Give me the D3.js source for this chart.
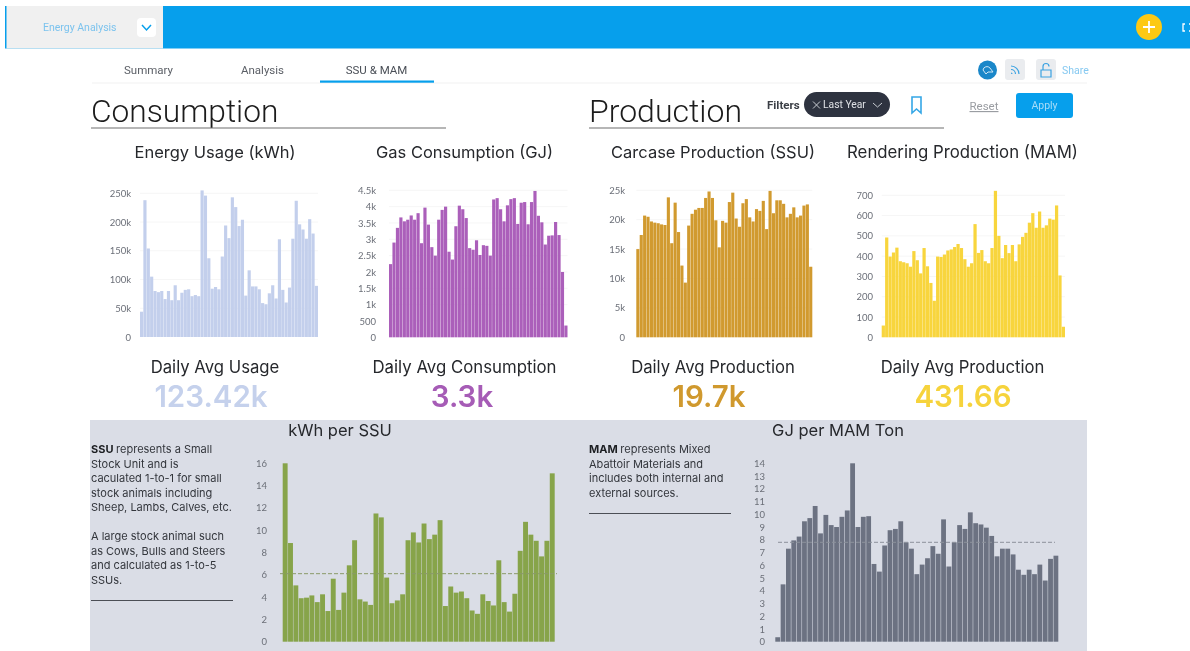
<!DOCTYPE html>
<html>
<head>
<meta charset="utf-8">
<title>Energy Analysis</title>
<style>
  html, body { margin: 0; padding: 0; background: #fff; overflow: hidden; }
  svg { filter: blur(0.4px); }
  text { font-family: Roboto, sans-serif; }
  .tick text { font-family: Lato, sans-serif; font-size: 9.5px; fill: #6b6f78; }
</style>
</head>
<body>
<script src="https://cdn.jsdelivr.net/npm/d3@7"></script>
<script>
// weekly values
var energyUsage = [44,238,154,105,80,78,80,66,80,64,90,64,77,82,83,71,73,71,255,246,137,84,87,83,140,194,172,243,226,193,204,72,116,88,88,83,59,57,76,90,67,170,82,60,86,171,237,196,187,171,205,180,89].map(function(d){ return d * 1000; });
var gasConsumption = [2240,2900,3350,3670,3550,3600,3730,3600,3800,2880,3970,3450,2760,2500,3600,3900,4000,2620,2380,3400,4030,3920,3650,2730,2680,2970,2520,2820,2800,2500,4220,4260,3920,3550,4040,4230,4260,3470,4120,4140,3460,4140,4480,3720,3520,2840,3110,3120,3530,3130,2000,360];
var carcaseProduction = [15,17.4,20.7,20.5,19.7,19.5,19.4,19.2,19.1,23.8,16,22.9,17.9,12.2,9.3,19,21,21.7,22,22,23.7,24.8,23.7,19.9,15.3,19.8,19.5,23,24.6,20.2,18.8,22.8,23.5,20.4,19.7,21.8,21.5,23.2,18.4,24.9,21.1,23.3,23.3,22.7,20.4,21,22.1,20.4,20.7,22.4,22.6,12].map(function(d){ return d * 1000; });
var renderingProduction = [58,492,398,418,442,375,370,365,348,425,380,315,440,350,268,180,398,396,408,428,433,445,460,440,385,348,365,558,416,430,375,365,440,722,500,390,455,415,455,375,458,495,515,565,612,540,620,540,552,585,580,650,305,52];
var kwhPerSsu = [16,8.85,5.05,3.9,3.95,4.15,3.55,4.25,2.75,5.65,2.85,4.4,6.85,9.1,3.8,3.6,3.3,11.5,11.15,5.75,3.45,3.7,4.25,9.1,9.8,8.9,10.6,9.2,9.6,10.9,3.2,4.95,4.4,4.5,3.9,2.8,2.5,4.25,3.65,3.25,7.3,3.55,2.7,4.3,8.15,10.75,9.6,9.05,7.65,9.05,15.1];
var gjPerMam = [0.35,4.5,7.3,7.95,8.25,9.45,9.7,10.65,8.5,9.95,9.15,9,9.8,10.3,14,9,9.8,9.85,6.1,5.5,7.55,8.75,8.85,9.45,7.8,7.3,5.3,6.05,6.55,7.5,6.9,9.6,5.9,7.8,9.15,8.85,10.15,9.3,9.2,8.95,8.3,6.7,7.3,7.3,6.85,5.65,5.25,5.65,5.3,6.05,4.8,6.5,6.75];

var energyTicks = [0,50000,100000,150000,200000,250000];
var gasTicks = [0,500,1000,1500,2000,2500,3000,3500,4000,4500];
var carcaseTicks = [0,5000,10000,15000,20000,25000];
var renderingTicks = [0,100,200,300,400,500,600,700];
var ssuTicks = [0,2,4,6,8,10,12,14,16];
var mamTicks = [0,1,2,3,4,5,6,7,8,9,10,11,12,13,14];

var ssuMean = 6.1;
var mamMean = 7.8;

var tabs = ['Summary', 'Analysis', 'SSU & MAM'];
var ssuNote = ['represents a Small', 'Stock Unit and is', 'caculated 1-to-1 for small', 'stock animals including', 'Sheep, Lambs, Calves, etc.', '', 'A large stock animal such', 'as Cows, Bulls and Steers', 'and calculated as 1-to-5', 'SSUs.'];
var mamNote = ['represents Mixed', 'Abattoir Materials and', 'includes both internal and', 'external sources.'];

var width = 1190, height = 651;
var blue = '#069fec', titleFont = 'Inter, Roboto, sans-serif';

var svg = d3.select('body').append('svg')
  .attr('width', width).attr('height', height)
  .style('display', 'block');

function label(x, y, str, size, color, anchor, weight, font) {
  return svg.append('text')
    .attr('x', x).attr('y', y)
    .attr('text-anchor', anchor || 'start')
    .style('font-size', size + 'px')
    .style('font-weight', weight || 400)
    .style('font-family', font || null)
    .attr('fill', color)
    .text(str);
}

function box(x, y, w, h, fill, r) {
  return svg.append('rect').attr('x', x).attr('y', y).attr('width', w).attr('height', h)
    .attr('rx', r || 0).attr('fill', fill);
}

function rule(x1, x2, y, color, w) {
  svg.append('line').attr('x1', x1).attr('x2', x2).attr('y1', y).attr('y2', y)
    .attr('stroke', color).attr('stroke-width', w || 1);
}

function icon(d, color, w) {
  svg.append('path').attr('d', d).attr('fill', 'none')
    .attr('stroke', color).attr('stroke-width', w || 1.3);
}

// top bar
box(5, 6, 1185, 42.5, blue);
box(6.5, 6, 156.5, 42.5, '#f0f0f0');
label(43, 31, 'Energy Analysis', 10.5, '#7cc3ee');
box(137, 18, 19, 19, '#fff', 4);
icon('M142 25 L146.5 30 L151 25', blue, 1.5);
svg.append('circle').attr('cx', 1149).attr('cy', 27).attr('r', 13).attr('fill', '#fdc913');
icon('M1143 27 H1155 M1149 21 V33', '#fff', 1.8);
icon('M1185 24 H1183 V31 H1185 M1189 24 H1191 M1189 31 H1191', '#fff', 1.3);

// tabs
rule(92, 1087, 83, '#f1f1f1');
d3.zip(tabs, [148.5, 262.5, 376.5]).forEach(function(t, i) {
  label(t[1], 74, t[0], 11.5, i == 2 ? '#4a4f57' : '#5b5f66', 'middle');
});
box(320, 80.5, 114, 2.2, blue);

// share icons
svg.append('circle').attr('cx', 987.5).attr('cy', 70).attr('r', 9.5).attr('fill', '#1a87c9');
icon('M983 70 a4 4 0 0 1 7 -2 l3 4 h-5 l-2 2 z', '#cfe6f5', 1);
box(1005, 59, 20, 21, '#eaecef', 3);
icon('M1011 66 a8 8 0 0 1 8 8 M1011 69.5 a4.5 4.5 0 0 1 4.5 4.5 M1011 73 a1 1 0 0 1 1 1', '#3aa2e2', 1.2);
box(1036, 59, 20, 21, '#eaecef', 3);
icon('M1041 70 h10 v7 h-10 z M1043 70 v-3.5 a3 3 0 0 1 6 0', '#3aa2e2', 1.2);
label(1062, 74, 'Share', 10.5, '#86c9f1');

// section headers
label(91, 122, 'Consumption', 31.7, '#1c1c1c', 'start', 300);
rule(91, 446, 128, '#6f6f6f', 1.2);
label(589, 122, 'Production', 32, '#1c1c1c', 'start', 300);
rule(589, 944, 128, '#6f6f6f', 1.2);

// filters
label(767, 109, 'Filters', 11.5, '#3b3f46', 'start', 700);
box(804, 92, 86, 25, '#2e3340', 12.5);
icon('M813 101.5 L820 108.5 M820 101.5 L813 108.5', '#c8ccd2', 1);
label(823, 108, 'Last Year', 10.3, '#dfe1e5');
icon('M873 103 L877.5 107 L882 103', '#c8ccd2', 1);
icon('M912 97 H921 V113 L916.5 109 L912 113 Z', '#35a7e6', 1.6);
label(969.5, 110, 'Reset', 11.5, '#9a9da2').style('text-decoration', 'underline');
box(1016, 93, 57, 25, blue, 3);
label(1044.5, 109, 'Apply', 10.5, '#a7dcf8', 'middle');

// bottom panel
box(90, 420, 997, 231, '#dadde6');

function shortK(d) {
  return d >= 1000 ? (d / 1000) + 'k' : String(d);
}

function barChart(o) {
  var x = d3.scaleBand()
    .domain(d3.range(o.values.length))
    .range([o.x0, o.x1])
    .paddingInner(o.gap);
  var y = d3.scaleLinear()
    .domain([0, d3.max(o.ticks)])
    .range([o.y0, o.y1]);
  var g = svg.append('g');

  if (o.grid) {
    g.selectAll('.grid').data(o.ticks.slice(1)).enter().append('line')
      .attr('class', 'grid')
      .attr('x1', o.x0).attr('x2', o.x1)
      .attr('y1', function(d){ return y(d); }).attr('y2', function(d){ return y(d); })
      .attr('stroke', '#f6f6f6');
  }

  g.selectAll('.bar').data(o.values).enter().append('rect')
    .attr('class', 'bar')
    .attr('x', function(d, i){ return x(i); })
    .attr('y', function(d){ return y(d); })
    .attr('width', x.bandwidth())
    .attr('height', function(d){ return o.y0 - y(d); })
    .attr('fill', o.color);

  var axis = d3.axisLeft(y).tickValues(o.ticks).tickFormat(shortK).tickSize(0).tickPadding(0);
  var a = g.append('g').attr('transform', 'translate(' + o.labelX + ',0)').call(axis);
  a.select('.domain').remove();

  if (o.mean != null) {
    g.append('line')
      .attr('x1', o.meanX[0]).attr('x2', o.meanX[1])
      .attr('y1', y(o.mean)).attr('y2', y(o.mean))
      .attr('stroke', o.meanColor).attr('stroke-dasharray', '4,2');
  }
}

barChart({values: energyUsage, ticks: energyTicks, color: '#c3cfec', x0: 140, x1: 318, y0: 337, y1: 193.3, labelX: 131, gap: 0.06, grid: true});
barChart({values: gasConsumption, ticks: gasTicks, color: '#ab5fba', x0: 389, x1: 567.5, y0: 337.3, y1: 190.3, labelX: 376, gap: 0.08, grid: true});
barChart({values: carcaseProduction, ticks: carcaseTicks, color: '#d19a2f', x0: 636.3, x1: 812.3, y0: 337.3, y1: 190.3, labelX: 625, gap: 0.08, grid: true});
barChart({values: renderingProduction, ticks: renderingTicks, color: '#f8d53d', x0: 881.7, x1: 1065, y0: 337.3, y1: 195.3, labelX: 873, gap: 0.05, grid: true});
barChart({values: kwhPerSsu, ticks: ssuTicks, color: '#87a44a', x0: 282.7, x1: 554.7, y0: 641.7, y1: 463.3, labelX: 267, gap: 0.08, mean: ssuMean, meanX: [280, 557], meanColor: '#8a9a68'});
barChart({values: gjPerMam, ticks: mamTicks, color: '#6c7282', x0: 775.3, x1: 1058.3, y0: 641.7, y1: 463.3, labelX: 765, gap: 0.1, mean: mamMean, meanX: [778, 1055], meanColor: '#8d919c'});

// chart titles
label(215, 158, 'Energy Usage (kWh)', 16.5, '#26282c', 'middle', 400, titleFont);
label(464.5, 158, 'Gas Consumption (GJ)', 16.5, '#26282c', 'middle', 400, titleFont);
label(713, 158, 'Carcase Production (SSU)', 16.5, '#26282c', 'middle', 400, titleFont);
label(962.5, 158, 'Rendering Production (MAM)', 16.8, '#26282c', 'middle', 400, titleFont);

// daily averages
label(215, 373, 'Daily Avg Usage', 16.7, '#26282c', 'middle', 400, titleFont);
label(464.5, 373, 'Daily Avg Consumption', 16.8, '#26282c', 'middle', 400, titleFont);
label(713, 373, 'Daily Avg Production', 16.7, '#26282c', 'middle', 400, titleFont);
label(962.5, 373, 'Daily Avg Production', 16.7, '#26282c', 'middle', 400, titleFont);
label(211, 407, '123.42k', 29.5, '#c5d1ec', 'middle', 600, titleFont);
label(462, 407, '3.3k', 29.5, '#a65cb6', 'middle', 600, titleFont);
label(709, 407, '19.7k', 29.5, '#d0992e', 'middle', 600, titleFont);
label(963, 407, '431.66', 29.5, '#f6d33c', 'middle', 600, titleFont);

// bottom panel titles and notes
label(340, 436, 'kWh per SSU', 16.5, '#26282c', 'middle', 400, titleFont);
label(838, 436, 'GJ per MAM Ton', 16.5, '#26282c', 'middle', 400, titleFont);

function note(x, head, lines) {
  lines.forEach(function(l, i) {
    var t = label(x, 453 + i * 14.5, l, 11, '#33363c', 'start', 400, titleFont);
    if (i == 0) {
      t.text(null);
      t.append('tspan').style('font-weight', 700).attr('fill', '#1c1e22').text(head + ' ');
      t.append('tspan').text(l);
    }
  });
}
note(91, 'SSU', ssuNote);
rule(91, 233, 600.5, '#4b4e55', 1);
note(589, 'MAM', mamNote);
rule(589, 731, 513.5, '#4b4e55', 1);
</script>
</body>
</html>
